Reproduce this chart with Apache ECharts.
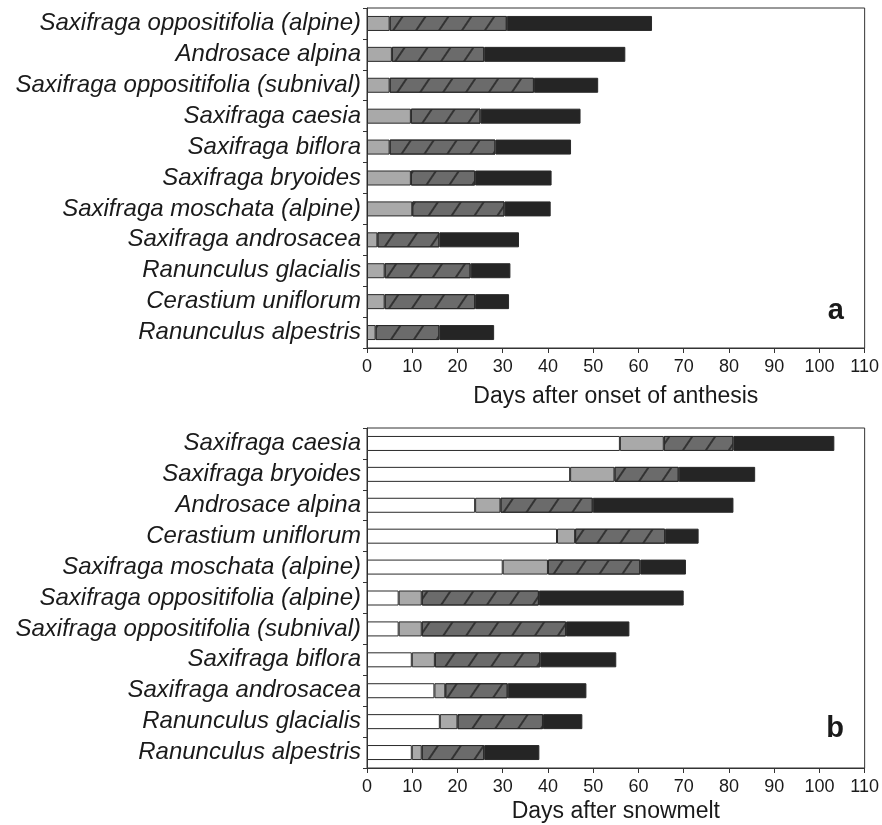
<!DOCTYPE html>
<html>
<head>
<meta charset="utf-8">
<script src="https://cdn.jsdelivr.net/npm/echarts@6/dist/echarts.min.js"></script>
<style>
html,body{margin:0;padding:0;background:#fff;}
#chart{width:882px;height:825px;}
</style>
</head>
<body>
<div id="chart"></div>
<script>
// Panel a: days after onset of anthesis (segment durations)
var speciesA = ['Saxifraga oppositifolia (alpine)', 'Androsace alpina', 'Saxifraga oppositifolia (subnival)', 'Saxifraga caesia', 'Saxifraga biflora', 'Saxifraga bryoides', 'Saxifraga moschata (alpine)', 'Saxifraga androsacea', 'Ranunculus glacialis', 'Cerastium uniflorum', 'Ranunculus alpestris'];
var aEarly = [5, 5.5, 5, 9.7, 5, 9.7, 10, 2.3, 3.9, 3.9, 1.9];
var aPeak  = [25.9, 20.4, 31.9, 15.4, 23.4, 14.2, 20.4, 13.7, 19, 20, 14.1];
var aLate  = [32.1, 31.2, 14.2, 22.1, 16.7, 16.9, 10.2, 17.6, 8.8, 7.5, 12.1];

// Panel b: days after snowmelt (segment durations)
var speciesB = ['Saxifraga caesia', 'Saxifraga bryoides', 'Androsace alpina', 'Cerastium uniflorum', 'Saxifraga moschata (alpine)', 'Saxifraga oppositifolia (alpine)', 'Saxifraga oppositifolia (subnival)', 'Saxifraga biflora', 'Saxifraga androsacea', 'Ranunculus glacialis', 'Ranunculus alpestris'];
var bPre   = [55.9, 44.9, 23.9, 42, 30, 7, 7, 9.9, 14.9, 16.1, 9.9];
var bEarly = [9.7, 9.8, 5.6, 4, 10, 5.1, 5.1, 5.1, 2.4, 3.9, 2.2];
var bPeak  = [15.4, 14.2, 20.4, 19.9, 20.4, 25.9, 31.9, 23.3, 13.8, 18.9, 13.8];
var bLate  = [22.3, 16.9, 31.1, 7.4, 10.1, 32, 14, 16.8, 17.4, 8.7, 12.2];

var xTicks = [0, 10, 20, 30, 40, 50, 60, 70, 80, 90, 100, 110];
var xNames = ['Days after onset of anthesis', 'Days after snowmelt'];
var panelLetters = ['a', 'b'];

var textColor = '#1a1a1a';
var edge = '#2a2a2a';
var hatch = {
  symbol: 'rect', symbolSize: 1,
  dashArrayX: [1, 0], dashArrayY: [1.4, 17],
  rotation: -Math.PI * 56 / 180,
  color: '#333333'
};

function makeX(idx, gap) {
  return {
    gridIndex: idx, type: 'value', min: xTicks[0], max: xTicks[xTicks.length - 1], interval: 10,
    name: xNames[idx], nameLocation: 'middle', nameGap: gap,
    nameTextStyle: {fontFamily: 'Liberation Sans', fontSize: 23, color: textColor},
    axisLine: {show: true, lineStyle: {color: '#333', width: 1}},
    axisTick: {show: true, length: 5, lineStyle: {color: '#333'}},
    axisLabel: {margin: 10, fontFamily: 'Liberation Sans', fontSize: 18, color: textColor},
    splitLine: {show: false}
  };
}
function makeY(idx, cats) {
  return {
    gridIndex: idx, type: 'category', data: cats, inverse: true,
    axisLine: {show: true, lineStyle: {color: '#333', width: 1}},
    axisTick: {show: true, length: 4, interval: 0, lineStyle: {color: '#333'}},
    axisLabel: {interval: 0, margin: 6, fontFamily: 'Liberation Sans', fontStyle: 'italic', fontSize: 24, color: textColor},
    splitLine: {show: false}
  };
}
function bar(name, data, grid, stack, color, decal) {
  var s = {
    name: name, type: 'bar', xAxisIndex: grid, yAxisIndex: grid, stack: stack,
    data: data, barWidth: 15,
    itemStyle: {color: color, borderColor: edge, borderWidth: 1}
  };
  if (decal) s.itemStyle.decal = decal;
  return s;
}

var chart = echarts.init(document.getElementById('chart'), null, {renderer: 'canvas'});
chart.setOption({
  animation: false,
  backgroundColor: '#fff',
  grid: [
    {left: 367, right: 17, top: 8, height: 340, show: true, borderColor: '#333', borderWidth: 1, containLabel: false},
    {left: 367, right: 17, top: 428, height: 340, show: true, borderColor: '#333', borderWidth: 1, containLabel: false}
  ],
  xAxis: [makeX(0, 37), makeX(1, 32)],
  yAxis: [makeY(0, speciesA), makeY(1, speciesB)],
  series: [
    bar('early', aEarly, 0, 'a', '#a9a9a9'),
    bar('peak', aPeak, 0, 'a', '#6b6b6b', hatch),
    bar('late', aLate, 0, 'a', '#252525'),
    bar('pre', bPre, 1, 'b', '#ffffff'),
    bar('early', bEarly, 1, 'b', '#a9a9a9'),
    bar('peak', bPeak, 1, 'b', '#6b6b6b', hatch),
    bar('late', bLate, 1, 'b', '#252525')
  ],
  graphic: [
    {type: 'text', right: 38, top: 296, style: {text: panelLetters[0], font: 'bold 29px "Liberation Sans"', fill: textColor}},
    {type: 'text', right: 38, top: 714, style: {text: panelLetters[1], font: 'bold 29px "Liberation Sans"', fill: textColor}}
  ]
});
</script>
</body>
</html>
